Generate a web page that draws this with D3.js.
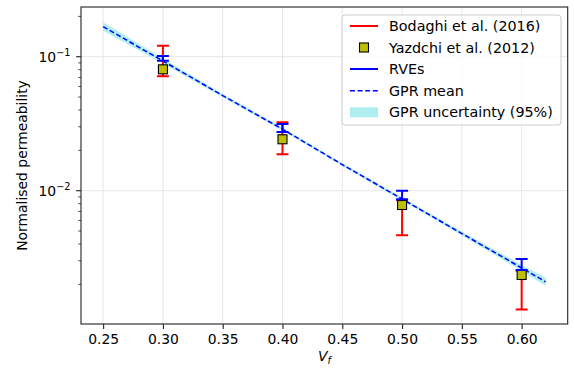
<!DOCTYPE html>
<html><head><meta charset="utf-8">
<script src="https://cdn.jsdelivr.net/npm/d3@7"></script>
<style>html,body{margin:0;padding:0;background:#fff;} svg{display:block;font-family:"DejaVu Sans",sans-serif;}</style>
</head><body>
<svg id="c" width="574" height="370"></svg>
<script>
// ---- data ----
const vf = [0.30, 0.40, 0.50, 0.60];
const bodaghiLow  = [0.0714, 0.0187, 0.00465, 0.0013];
const bodaghiHigh = [0.1208, 0.0324, 0.0085, 0.00253];
const yazdchi     = [0.0805, 0.0242, 0.00782, 0.00235];
const rveLow      = [0.0933, 0.0274, 0.00863, 0.00256];
const rveHigh     = [0.1012, 0.0315, 0.0100, 0.00309];
const gprX     = [0.25, 0.30, 0.35, 0.40, 0.45, 0.50, 0.55, 0.60, 0.62];
const gprMean  = [0.1679, 0.0929, 0.0513, 0.0288, 0.01567, 0.00867, 0.00479, 0.00265, 0.00209];
const gprLower = [0.156, 0.0891, 0.0499, 0.0281, 0.01531, 0.00845, 0.00464, 0.00252, 0.00195];
const gprUpper = [0.1807, 0.0968, 0.0527, 0.0295, 0.01604, 0.00889, 0.00495, 0.00279, 0.00224];
const xTicks = [0.25, 0.30, 0.35, 0.40, 0.45, 0.50, 0.55, 0.60];
const yMajor = [0.1, 0.01];
const yMajorExp = ["−1", "−2"];
const legendLabels = ["Bodaghi et al. (2016)", "Yazdchi et al. (2012)", "RVEs", "GPR mean", "GPR uncertainty (95%)"];

// ---- layout ----
const L = 81, R = 567.7, T = 7, B = 324;
const svg = d3.select("#c");
const x = d3.scaleLinear().domain([0.2315, 0.6385]).range([L, R]);
const y = d3.scaleLog().domain([0.001012, 0.2350]).range([B, T]);
const FS = 13.9, LFS = 14.3;
const RED = "#ff0000", BLUE = "#0000ff", OLIVE = "#bfbf00", BAND = "#afeeee";

// grid
const grid = svg.append("g");
grid.selectAll("line.gx").data(xTicks).join("line")
  .attr("x1", d => x(d)).attr("x2", d => x(d)).attr("y1", T).attr("y2", B)
  .attr("stroke", "#e6e6e6").attr("stroke-width", 1);
grid.selectAll("line.gy").data(yMajor).join("line")
  .attr("y1", d => y(d)).attr("y2", d => y(d)).attr("x1", L).attr("x2", R)
  .attr("stroke", "#e6e6e6").attr("stroke-width", 1);

// clip
svg.append("clipPath").attr("id", "pc").append("rect").attr("x", L).attr("y", T).attr("width", R - L).attr("height", B - T);
const plot = svg.append("g").attr("clip-path", "url(#pc)");

const gpr = gprX.map((v, i) => ({x: v, m: gprMean[i], lo: gprLower[i], hi: gprUpper[i]}));
plot.append("path").datum(gpr)
  .attr("d", d3.area().x(d => x(d.x)).y0(d => y(d.lo)).y1(d => y(d.hi)))
  .attr("fill", BAND);
plot.append("path").datum(gpr)
  .attr("d", d3.line().x(d => x(d.x)).y(d => y(d.m)))
  .attr("fill", "none").attr("stroke", BLUE).attr("stroke-width", 1.5).attr("stroke-dasharray", "5,2.6");

function errorbars(lo, hi, color) {
  const g = plot.append("g").attr("stroke", color).attr("stroke-width", 2).attr("fill", "none");
  vf.forEach((v, i) => {
    const cx = x(v);
    g.append("line").attr("x1", cx).attr("x2", cx).attr("y1", y(lo[i])).attr("y2", y(hi[i]));
    g.append("line").attr("x1", cx - 6).attr("x2", cx + 6).attr("y1", y(lo[i])).attr("y2", y(lo[i]));
    g.append("line").attr("x1", cx - 6).attr("x2", cx + 6).attr("y1", y(hi[i])).attr("y2", y(hi[i]));
  });
}
errorbars(bodaghiLow, bodaghiHigh, RED);
plot.append("g").selectAll("rect").data(vf).join("rect")
  .attr("x", d => x(d) - 4.5).attr("y", (d, i) => y(yazdchi[i]) - 4.5)
  .attr("width", 9).attr("height", 9)
  .attr("fill", OLIVE).attr("stroke", "#000").attr("stroke-width", 1.1);
errorbars(rveLow, rveHigh, BLUE);

// spines
svg.append("rect").attr("x", L).attr("y", T).attr("width", R - L).attr("height", B - T)
  .attr("fill", "none").attr("stroke", "#222").attr("stroke-width", 1.1);

// x axis
const xa = svg.append("g").attr("transform", `translate(0,${B})`)
  .call(d3.axisBottom(x).tickValues(xTicks).tickFormat(d3.format(".2f")).tickSize(4.9).tickPadding(4.9));
xa.select(".domain").remove();
xa.selectAll("line").attr("stroke", "#222").attr("stroke-width", 1.1);
xa.selectAll("text").attr("font-size", FS).attr("fill", "#000").attr("font-family", "DejaVu Sans");

// y axis: minor ticks
const yMinor = [];
[0.001, 0.01, 0.1].forEach(base => { for (let k = 2; k <= 9; k++) { const v = base * k; if (v > y.domain()[0] && v < y.domain()[1]) yMinor.push(v); } });
svg.append("g").selectAll("line").data(yMinor).join("line")
  .attr("x1", L - 2.8).attr("x2", L).attr("y1", d => y(d)).attr("y2", d => y(d))
  .attr("stroke", "#222").attr("stroke-width", 0.8);
svg.append("g").selectAll("line").data(yMajor).join("line")
  .attr("x1", L - 4.9).attr("x2", L).attr("y1", d => y(d)).attr("y2", d => y(d))
  .attr("stroke", "#222").attr("stroke-width", 1.1);
const yl = svg.append("g").selectAll("text").data(yMajor).join("text")
  .attr("x", L - 10.5).attr("y", d => y(d) + 5).attr("text-anchor", "end")
  .attr("font-size", FS).attr("fill", "#000");
yl.append("tspan").text("10");
yl.append("tspan").attr("font-size", FS * 0.7).attr("dy", -6).text((d, i) => yMajorExp[i]);

// axis labels
svg.append("text").attr("transform", `translate(27,${(T + B) / 2}) rotate(-90)`)
  .attr("text-anchor", "middle").attr("font-size", FS).attr("fill", "#000").text("Normalised permeability");
const xl = svg.append("text").attr("x", (L + R) / 2).attr("y", 361).attr("text-anchor", "middle")
  .attr("font-size", FS).attr("fill", "#000");
xl.append("tspan").attr("font-style", "italic").text("V");
xl.append("tspan").attr("font-style", "italic").attr("font-size", FS * 0.7).attr("dy", 3).text("f");

// legend
const lg = svg.append("g");
lg.append("rect").attr("x", 342).attr("y", 15).attr("width", 219).attr("height", 110).attr("rx", 3)
  .attr("fill", "#fff").attr("fill-opacity", 0.8).attr("stroke", "#cccccc").attr("stroke-width", 1);
const rowsY = [26, 47.5, 69, 90.8, 112.3];
const hx0 = 350, hx1 = 378;
lg.append("line").attr("x1", hx0).attr("x2", hx1).attr("y1", rowsY[0]).attr("y2", rowsY[0]).attr("stroke", RED).attr("stroke-width", 2);
lg.append("rect").attr("x", (hx0 + hx1) / 2 - 4.5).attr("y", rowsY[1] - 4.5).attr("width", 9).attr("height", 9)
  .attr("fill", OLIVE).attr("stroke", "#000").attr("stroke-width", 1.1);
lg.append("line").attr("x1", hx0).attr("x2", hx1).attr("y1", rowsY[2]).attr("y2", rowsY[2]).attr("stroke", BLUE).attr("stroke-width", 2);
lg.append("line").attr("x1", hx0).attr("x2", hx1).attr("y1", rowsY[3]).attr("y2", rowsY[3]).attr("stroke", BLUE).attr("stroke-width", 1.5).attr("stroke-dasharray", "5,2.6");
lg.append("rect").attr("x", hx0).attr("y", rowsY[4] - 5).attr("width", hx1 - hx0).attr("height", 10).attr("fill", BAND);
lg.selectAll("text").data(legendLabels).join("text")
  .attr("x", 389).attr("y", (d, i) => rowsY[i] + 5).attr("font-size", LFS).attr("fill", "#000").text(d => d);
</script>
</body></html>
